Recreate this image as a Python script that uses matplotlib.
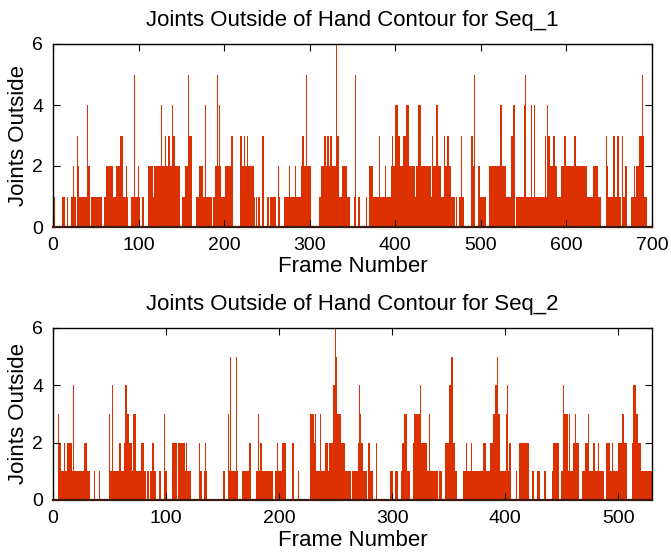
import matplotlib
matplotlib.use("Agg")
import matplotlib.pyplot as plt
import numpy as np

plt.rcParams['font.family'] = ['Liberation Sans', 'DejaVu Sans']

# Joints outside per frame (one digit per frame)
seq1_chunks = [
    "2110000000", "0111000100", "0011211013", "2111101111", "4222011112",
    "1111111100", "1112222222", "2111222223", "3311112100", "0011151111",
    "2100111000", "0022222112", "2222222422", "2332233222", "4332222220",
    "0111122253", "3330000011", "1222221141", "1111110111", "2252242111",
    "1222222223", "3000000003", "3222322322", "2222211010", "1100033000",
    "1110111111", "1002210000", "1111112211", "1112211111", "2433225222",
    "2200000000", "0111222333", "2332332222", "2633311122", "2222111100",
    "0010500110", "0000001100", "2222211111", "1331111122", "1111122322",
    "4424332222", "3334442222", "2221122444", "2222222122", "2213322244",
    "2222111332", "2332321111", "0110011331", "1000000003", "3255000222",
    "1111111000", "2223222222", "2224422222", "1111113344", "0011111111",
    "1451111114", "1114111111", "1111133143", "3222233222", "1111222233",
    "2222222223", "4322222222", "2222211111", "1022222111", "1000000321",
    "1011133131", "3311003112", "2000001112", "2122233335", "31111000",
]
seq2_chunks = [
    "0000032211", "2112222141", "1111111122", "2110000100", "0100000000",
    "3114111112", "2112443322", "1333111122", "2110101122", "1100110003",
    "1000002222", "0222222121", "1110000000", "2100121000", "0000000000",
    "0110031511", "1151000011", "1111220000", "1131211111", "1111100112",
    "1112222000", "0022000100", "0000000033", "3231111311", "1222122244",
    "6533322221", "1111011111", "2432211102", "2111002000", "0000000001",
    "1001110012", "2333110002", "3333342222", "2113111111", "1011100222",
    "2445221100", "0001112111", "2111111111", "1222111222", "3345331111",
    "1341220000", "1002222222", "2200110001", "1000011000", "0012222200",
    "1143331311", "1232220001", "1222311122", "1112111100", "2221121111",
    "2222332200", "0002443322", "2111111111", "1",
]
seq1_values = [int(c) for c in "".join(seq1_chunks)]
seq2_values = [int(c) for c in "".join(seq2_chunks)]

titles = ["Joints Outside of Hand Contour for Seq_1",
          "Joints Outside of Hand Contour for Seq_2"]
xlims = [700, 530]
xticks = [list(range(0, 701, 100)), list(range(0, 501, 100))]
yticks = [0, 2, 4, 6]

color = '#dc3000'

fig = plt.figure(figsize=(6.71, 5.58), dpi=100)
ax1 = fig.add_axes([53/671, 1-227/558, 599/671, 183/558])
ax2 = fig.add_axes([53/671, 1-500/558, 599/671, 172/558])

for ax, vals, title, xl, xt in zip([ax1, ax2], [seq1_values, seq2_values],
                                   titles, xlims, xticks):
    frames = np.arange(len(vals))
    ax.bar(frames, vals, width=1.0, color=color, linewidth=0)
    ax.set_xlim(0, xl)
    ax.set_ylim(0, 6)
    ax.set_xticks(xt)
    ax.set_yticks(yticks)
    ax.tick_params(direction='in', length=5, width=0.8, top=True, right=True,
                   labelsize=14, pad=7)
    for s in ax.spines.values():
        s.set_linewidth(1.0)
    ax.spines['bottom'].set_color('#3a1a10')
    ax.spines['bottom'].set_linewidth(1.6)
    ax.set_title(title, fontsize=16, pad=13)
    ax.set_xlabel("Frame Number", fontsize=16, labelpad=2)
    ax.set_ylabel("Joints Outside", fontsize=16, labelpad=2)

fig.savefig("out.png", dpi=100)
